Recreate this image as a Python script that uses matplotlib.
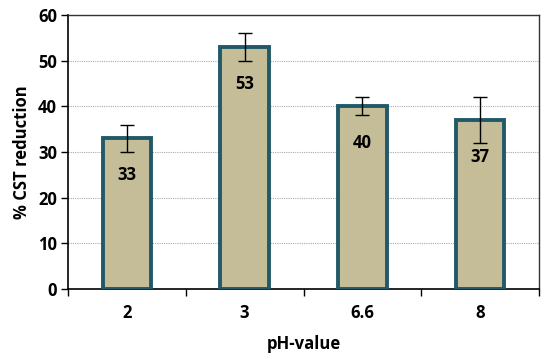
import matplotlib
matplotlib.use("Agg")
import matplotlib.pyplot as plt
import numpy as np

categories = ["2", "3", "6.6", "8"]
values = [33, 53, 40, 37]
errors = [3, 3, 2, 5]
yticks = [0, 10, 20, 30, 40, 50, 60]

plt.rcParams['font.family'] = ['Open Sans', 'DejaVu Sans']
plt.rcParams['font.weight'] = 'bold'

fig = plt.figure(figsize=(5.5, 3.61), dpi=100)
ax = fig.add_axes([68/550, 1-289/361, (539-68)/550, (289-15)/361])

x = np.arange(len(categories))
ax.bar(x, values, width=0.41, color="#C4BD97", edgecolor="#215968", linewidth=2.8, zorder=3)
ax.errorbar(x, values, yerr=errors, fmt='none', ecolor='black', elinewidth=1, capsize=5, capthick=1, zorder=4)
for xi, v in zip(x, values):
    ax.annotate(str(v), (xi, v), xytext=(0, -37), textcoords='offset pixels',
                ha='center', va='center', fontsize=12, fontweight='bold', color='black', zorder=5)

ax.set_xlim(-0.5, len(categories)-0.5)
ax.set_ylim(0, 60)
ax.set_yticks(yticks)
ax.set_xticks(x)
ax.set_xticklabels(categories)
ax.set_xticks(np.arange(len(categories)+1)-0.5, minor=True)
ax.tick_params(axis='x', which='major', length=0, pad=11, labelsize=12)
ax.tick_params(axis='x', which='minor', length=5, width=1, direction='out')
ax.tick_params(axis='y', length=5, width=1, labelsize=12, pad=3)
ax.yaxis.grid(True, linestyle=(0, (1, 1)), color='#aaaaaa', linewidth=0.8, zorder=0)
ax.set_axisbelow(True)
for s in ['left', 'bottom']:
    ax.spines[s].set_color('black')
    ax.spines[s].set_linewidth(1.2)
for s in ['top', 'right']:
    ax.spines[s].set_color('#333333')
    ax.spines[s].set_linewidth(1)
ax.set_xlabel("pH-value", fontsize=12, fontweight='bold', labelpad=9)
ax.set_ylabel("% CST reduction", fontsize=12, fontweight='bold', labelpad=5)

fig.savefig("out.png", dpi=100)
